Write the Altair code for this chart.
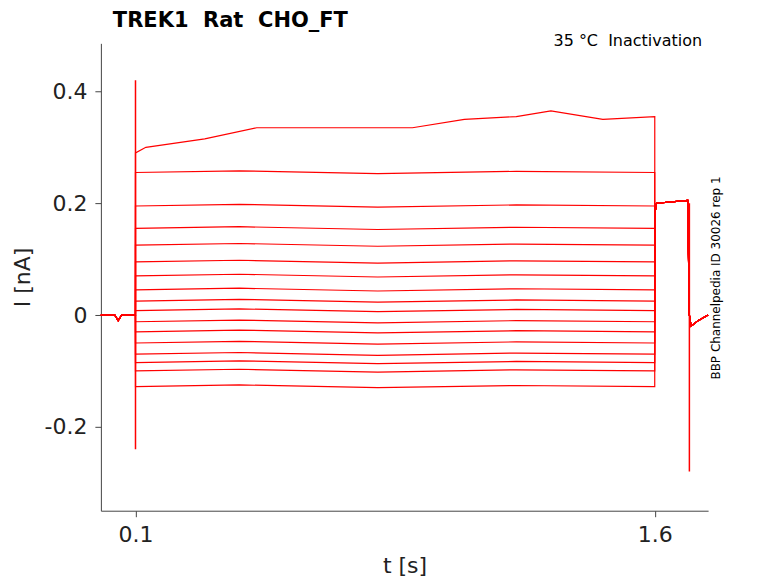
import altair as alt
import pandas as pd

# step levels (nA) of each sweep during the 0.1-1.6 s pulse
levels = [0.255, 0.195, 0.155, 0.125, 0.095, 0.07, 0.045, 0.025, 0.008,
          -0.012, -0.03, -0.05, -0.07, -0.085, -0.1, -0.128]
# the top sweep drifts upward
top_t = [0.1, 0.13, 0.3, 0.45, 0.6, 0.9, 1.05, 1.2, 1.3, 1.45, 1.6]
top_i = [0.29, 0.3, 0.315, 0.335, 0.335, 0.335, 0.35, 0.355, 0.365, 0.35, 0.355]
# tail after the pulse (shared by all sweeps)
tail_t = [1.6, 1.605, 1.695, 1.7, 1.705, 1.725, 1.754]
tail_i = [0.18, 0.2, 0.205, 0.0, -0.02, -0.01, 0.0]
pre_t = [0.0, 0.04, 0.05, 0.06, 0.0999]
pre_i = [0.0, 0.0, -0.01, 0.0, 0.0]
spikes = [{"t": 0.1, "lo": -0.24, "hi": 0.42}, {"t": 1.7, "lo": -0.28, "hi": 0.2}]

rows = []
def add(sweep, ts, vs):
    for t, v in zip(ts, vs):
        rows.append({"sweep": sweep, "t": t, "I": v})

for k, lv in enumerate(levels):
    add(k, pre_t, pre_i)
    add(k, [0.1, 0.4, 0.8, 1.2, 1.5999], [lv, lv + 0.003, lv - 0.002, lv + 0.002, lv])
    add(k, tail_t, tail_i)
add(99, pre_t, pre_i)
add(99, top_t, top_i)
add(99, tail_t, tail_i)
df = pd.DataFrame(rows)

x = alt.X("t:Q", title="t [s]", scale=alt.Scale(domain=[0, 1.754], nice=False),
          axis=alt.Axis(values=[0.1, 1.6], format=".1f", grid=False, titlePadding=10))
y = alt.Y("I:Q", title="I [nA]", scale=alt.Scale(domain=[-0.35, 0.486], nice=False),
          axis=alt.Axis(values=[-0.2, 0, 0.2, 0.4], grid=False, titlePadding=10,
                        labelExpr="datum.value == 0 ? '0' : replace(format(datum.value, '.1f'), '\u2212', '-')"))

lines = alt.Chart(df).mark_line(color="#ff0000", strokeWidth=1.2).encode(
    x=x, y=y, detail="sweep:N", order="t:Q")
sp = alt.Chart(pd.DataFrame(spikes)).mark_rule(color="#ff0000", strokeWidth=1.5).encode(
    x="t:Q", y="lo:Q", y2="hi:Q")

title = alt.Chart(pd.DataFrame({"a": [0]})).mark_text(
    text="TREK1\u00a0\u00a0Rat\u00a0\u00a0CHO_FT", fontSize=21, fontWeight="bold", align="left",
    color="black", font="DejaVu Sans").encode(x=alt.value(12), y=alt.value(-22))
temp = alt.Chart(pd.DataFrame({"a": [0]})).mark_text(
    text="35 °C\u00a0\u00a0Inactivation", fontSize=16, align="right", color="black",
    font="DejaVu Sans").encode(x=alt.value(602), y=alt.value(-2))
side = alt.Chart(pd.DataFrame({"a": [0]})).mark_text(
    text="BBP Channelpedia ID 30026 rep 1", fontSize=12, angle=270, align="center",
    color="black", font="DejaVu Sans").encode(x=alt.value(616), y=alt.value(235))

chart = (lines + sp + title + temp + side).properties(
    width=608, height=468, autosize=alt.AutoSizeParams(type="none"),
    padding={"left": 93, "top": 35, "right": 62, "bottom": 72},
).configure_view(stroke=None).configure_axis(
    labelFontSize=22, titleFontSize=22, labelFont="DejaVu Sans", titleFont="DejaVu Sans",
    titleFontWeight="normal", domainColor="#444", tickColor="#444", labelColor="#222",
    titleColor="#222", tickSize=6, labelPadding=8,
)
chart.save("out.html", embed_options={"renderer": "svg", "actions": False})
